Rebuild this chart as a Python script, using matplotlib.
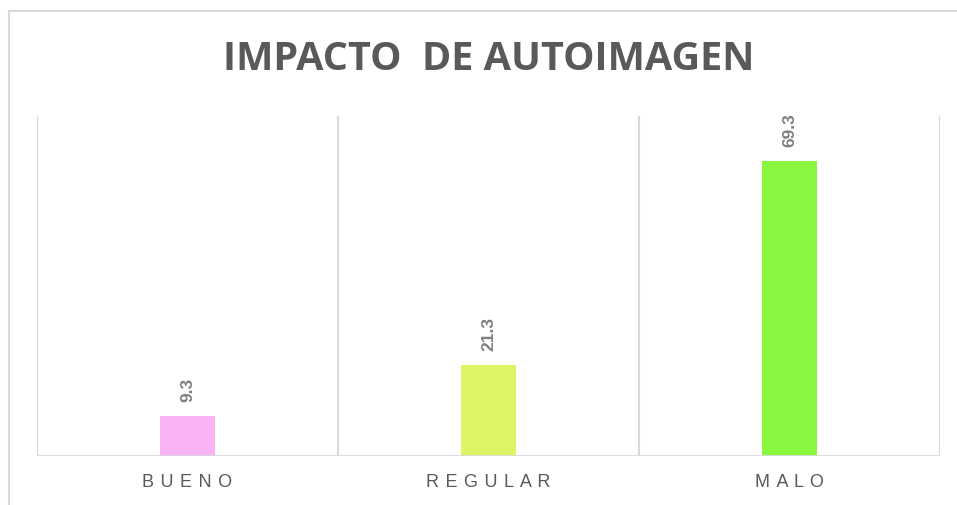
#!/usr/bin/env python3
import matplotlib
matplotlib.use("Agg")
import matplotlib.pyplot as plt
from matplotlib.patches import Rectangle

CATEGORIES = ["BUENO", "REGULAR", "MALO"]
VALUES = [9.3, 21.3, 69.3]
COLORS = ["#f9b4f6", "#ddf564", "#89f73f"]
Y_MAX = 80

W, H = 957, 506
fig = plt.figure(figsize=(W / 100, H / 100), dpi=100)

# chart frame (cropped screenshot: only left and top edges visible)
fig.patches.append(Rectangle((9 / W, -0.1), 1.2, 1 - 12 / H + 0.1, transform=fig.transFigure,
                             fill=False, edgecolor="#d9d9d9", linewidth=1.5))

ax = fig.add_axes([37 / W, 1 - 457 / H, (940 - 37) / W, (457 - 117) / H])
x = list(range(len(CATEGORIES)))
bars = ax.bar(x, VALUES, width=0.183, color=COLORS, zorder=3)
ax.set_xlim(-0.5, len(CATEGORIES) - 0.5)
ax.set_ylim(0, Y_MAX)

for b, v in zip(bars, VALUES):
    ax.annotate(f"{v:.1f}", (b.get_x() + b.get_width() / 2, v), xytext=(0, 11),
                textcoords="offset points", rotation=90, ha="center", va="bottom",
                fontsize=12.5, fontweight="bold", color="#7f7f7f", family="Liberation Sans")

# category separators
for i in range(len(CATEGORIES) + 1):
    ax.axvline(i - 0.5, color="#d9d9d9", linewidth=1.5, zorder=1)

for s in ax.spines.values():
    s.set_visible(False)
ax.axhline(0, color="#d9d9d9", linewidth=2, zorder=4)
ax.set_yticks([])
ax.set_xticks(x)
ax.set_xticklabels([" \u200a".join(c) for c in CATEGORIES], fontsize=13,
                   color="#595959", family=["Liberation Sans", "DejaVu Sans"])
ax.tick_params(axis="x", length=0, pad=12)

fig.text(489 / W, 1 - 60 / H, "IMPACTO  DE AUTOIMAGEN", ha="center", va="center",
         fontsize=28.5, fontweight="bold", color="#595959", family="Open Sans")

fig.savefig("out.png", dpi=100)
